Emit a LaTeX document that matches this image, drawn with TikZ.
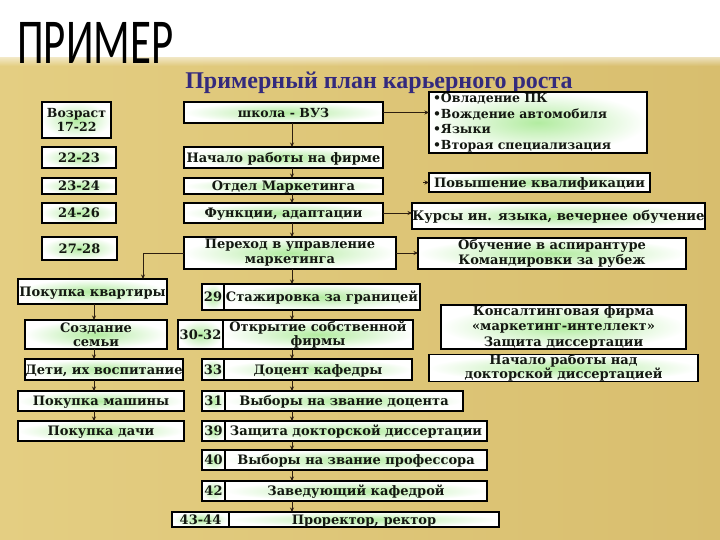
\documentclass[tikz,border=0pt]{standalone}
\usepackage{fontspec}
\setmainfont{DejaVu Serif}
\newfontfamily\bigsans[FakeStretch=0.67]{Carlito}
\newfontfamily\headfont{Liberation Serif}
\usetikzlibrary{arrows.meta,fadings}
\definecolor{glow}{RGB}{178,236,160}
\definecolor{ink}{RGB}{20,24,18}
\definecolor{headc}{RGB}{52,42,125}
\definecolor{goldA}{RGB}{228,206,130}
\definecolor{goldB}{RGB}{198,162,74}
\definecolor{goldC}{RGB}{216,190,110}
\definecolor{arrc}{RGB}{45,30,15}
\tikzfading[name=fadedown, top color=transparent!0, bottom color=transparent!100]
\tikzset{
  box/.style={draw=black, line width=1.1pt, inner sep=0pt, outer sep=0pt,
    inner color=glow, outer color=white, text=ink, align=center,
    font=\bfseries\fontsize{13}{15}\selectfont},
  one/.style={text height=9.5pt, text depth=0pt},
  fs/.style 2 args={font=\bfseries\fontsize{#1}{#2}\selectfont},
  arr/.style={draw=arrc, line width=0.9pt, -{Stealth[length=4.5pt,width=4pt]}},
}
% single-line box and multi-line box
\newcommand\bx[7][]{\node[box,one,minimum width={#5-#3},minimum height={#6-#4},#1] (#2) at ({(#3+#5)/2},{(#4+#6)/2}) {#7};}
\newcommand\bxm[7][]{\node[box,minimum width={#5-#3},minimum height={#6-#4},#1] (#2) at ({(#3+#5)/2},{(#4+#6)/2}) {#7};}
\begin{document}
\begin{tikzpicture}[x=1pt,y=-1pt]
\useasboundingbox (0,0) rectangle (720,540);
% background
\fill[white] (0,0) rectangle (720,540);
\shade[left color=goldA, middle color=goldB, right color=goldC] (0,58) rectangle (720,540);
\fill[white, path fading=fadedown] (0,50) rectangle (720,66);
% headings
\node[anchor=base west, inner sep=0pt, font=\bigsans\fontsize{64}{64}\selectfont] (main) at (17,64) {ПРИМЕР};
\node[anchor=base, inner sep=0pt, text=headc, font=\headfont\bfseries\fontsize{24}{24}\selectfont] (head) at (379,89) {Примерный план карьерного роста};
% spines
\coordinate (spine) at (292,0);
\coordinate (lspine) at (94,0);
\coordinate (kdrop) at (143,0);
% age column
\bxm[fs={12.5}{14}]{a1722}{42}{102}{111}{138}{Возраст\\17-22}
\bx{a2223}{42}{147}{116}{168}{22-23}
\bx{a2324}{42}{178}{116}{194}{23-24}
\bx{a2426}{42}{203}{116}{223}{24-26}
\bx{a2728}{42}{237}{117}{260}{27-28}
% central column
\bx[fs={12.5}{14}]{vuz}{184}{102}{383}{123}{школа - ВУЗ}
\bx{nach}{184}{147}{383}{168}{Начало работы на фирме}
\bx{otdel}{184}{178}{383}{194}{Отдел Маркетинга}
\bx{funk}{184}{203}{383}{223}{Функции, адаптации}
\bxm[fs={13}{15}]{perehod}{184}{237}{396}{269}{Переход в управление\\маркетинга}
% right column
\bxm[fs={12.5}{15.5}, text width=210pt, align=left]{bul}{429}{92}{647}{153}{•Овладение ПК\\•Вождение автомобиля\\•Языки\\•Вторая специализация}
\bx{povysh}{429}{173}{650}{192}{Повышение квалификации}
\bx[fs={13.2}{15}, text height=9.8pt]{kursy}{412}{203}{705}{229}{Курсы ин. языка, вечернее обучение}
\bxm[fs={13}{15}]{obuch}{418}{238}{686}{269}{Обучение в аспирантуре\\Командировки за рубеж}
\bxm[fs={13}{15.5}]{kons}{441}{305}{686}{349}{Консалтинговая фирма\\«маркетинг-интеллект»\\Защита диссертации}
\bxm[fs={13}{14}]{dokt}{429}{355}{698}{381}{Начало работы над\\докторской диссертацией}
% left branch
\bx{kvart}{18}{279}{167}{304}{Покупка квартиры}
\bxm[fs={13}{14}]{semya}{25}{320}{167}{349}{Создание\\семьи}
\bx{deti}{25}{359}{183}{380}{Дети, их воспитание}
\bx{mash}{18}{391}{184}{411}{Покупка машины}
\bx{dacha}{18}{421}{184}{441}{Покупка дачи}
% lower central column
\bx{n29}{202}{284}{224}{310}{29}
\bx{t29}{224}{284}{420}{310}{Стажировка за границей}
\bx{n30}{178}{320}{223}{349}{30-32}
\bxm[fs={13}{14}]{t30}{223}{320}{413}{349}{Открытие собственной\\фирмы}
\bx{n33}{202}{359}{224}{380}{33}
\bx{t33}{224}{359}{412}{380}{Доцент кафедры}
\bx{n31}{202}{391}{225}{411}{31}
\bx{t31}{225}{391}{463}{411}{Выборы на звание доцента}
\bx{n39}{202}{421}{225}{441}{39}
\bx{t39}{225}{421}{487}{441}{Защита докторской диссертации}
\bx{n40}{202}{450}{225}{470}{40}
\bx{t40}{225}{450}{487}{470}{Выборы на звание профессора}
\bx{n42}{202}{481}{225}{501}{42}
\bx{t42}{225}{481}{487}{501}{Заведующий кафедрой}
\bx{n43}{172}{512}{229}{527}{43-44}
\bx{t43}{229}{512}{499}{527}{Проректор, ректор}
% vertical chain
\foreach \a/\b in {vuz/nach, nach/otdel, otdel/funk, funk/perehod, perehod/t29, t29/t30, t30/t33, t33/t31, t31/t39, t39/t40, t40/t42, t42/t43}
  \draw[arr] (\a.south -| spine) -- (\b.north -| spine);
% left chain
\draw[arr] (perehod.west) -| (kvart.north -| kdrop);
\foreach \a/\b in {kvart/semya, semya/deti, deti/mash, mash/dacha}
  \draw[arr] (\a.south -| lspine) -- (\b.north -| lspine);
% side arrows
\draw[arr] (vuz.east) -- (vuz.east -| bul.west);
\draw[arr] (funk.east) -- (funk.east -| kursy.west);
\draw[arr] (perehod.east) -- (perehod.east -| obuch.west);
\coordinate (pvstub) at (423,182.5);
\draw[arr] (pvstub) -- (povysh.west);
\end{tikzpicture}
\end{document}
